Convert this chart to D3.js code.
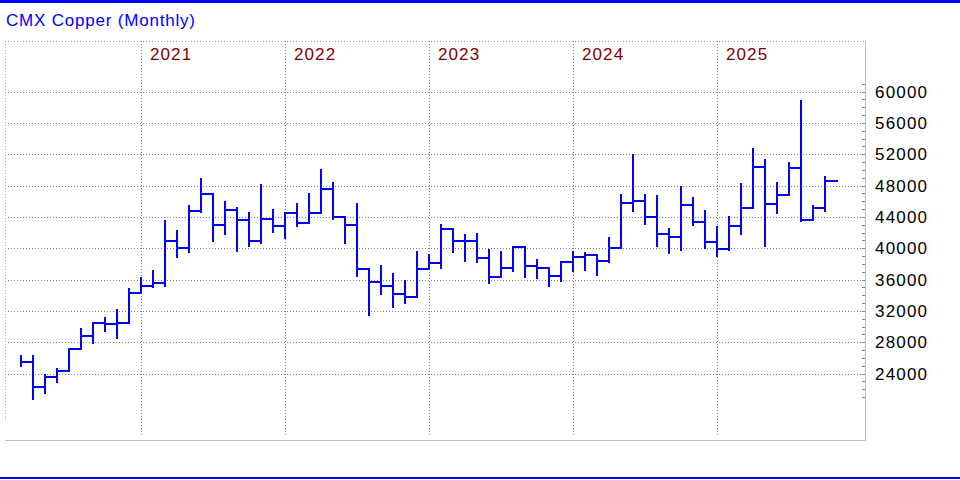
<!DOCTYPE html>
<html>
<head>
<meta charset="utf-8">
<script src="https://cdn.jsdelivr.net/npm/d3@7"></script>
<style>
	body { margin: 0; background: #fff; }
	text { font-family: Arial, "Liberation Sans", sans-serif; }
</style>
</head>
<body>
<div id="chart"></div>
<script>
// monthly bars, Feb 2020 .. Sep 2025
const months = d3.timeMonth.range(new Date(2020, 1, 1), new Date(2025, 9, 1));

const high = [26340, 26340, 24000, 24640, 27110, 29750, 30400, 31160, 32180, 34860, 36270, 37200,
	43590, 42310, 45510, 48920, 47000, 46020, 45210, 44580, 48170, 44960, 44550, 45730,
	47000, 50070, 48490, 44140, 45730, 37290, 37800, 36860, 35920, 39630, 39250, 43040,
	42400, 41760, 41890, 39850, 39630, 40100, 40180, 38610, 37620, 38260, 39630, 39460,
	39210, 41380, 46910, 52030, 46880, 46750, 42530, 47900, 46570, 44870, 42830, 44100,
	48280, 52760, 51350, 48410, 50970, 58930, 45510, 49220];
const low = [24840, 20590, 21440, 22850, 24330, 26980, 27740, 29240, 28350, 30390, 34220, 34860,
	34990, 38700, 39340, 44450, 40840, 41670, 39540, 40180, 40490, 41890, 41230, 42740,
	43370, 44520, 43590, 40490, 36350, 31360, 34010, 32380, 32900, 33790, 37270, 37290,
	39340, 38260, 38060, 35370, 36350, 36980, 36220, 36010, 35070, 35710, 36910, 37110,
	36430, 38060, 40050, 44650, 42950, 40180, 39210, 39670, 42830, 39920, 38900, 39670,
	41670, 44960, 40180, 44400, 46750, 43300, 43590, 44650];
const close = [25480, 22290, 23570, 24330, 27110, 28770, 30400, 30340, 30400, 34300, 35200, 35580,
	40950, 40050, 44780, 46880, 42990, 44870, 43590, 40950, 43720, 42850, 44550, 43250,
	44520, 47550, 44010, 42950, 37290, 35670, 35160, 34170, 33790, 37370, 38130, 42400,
	40950, 40950, 38770, 36350, 37500, 40100, 37710, 37420, 36470, 38220, 38860, 39120,
	38390, 40050, 45730, 46060, 43940, 41800, 41460, 45510, 43340, 40820, 39890, 42830,
	45160, 50400, 45680, 46790, 50280, 43590, 45160, 48610];

const yTicks = [24000, 28000, 32000, 36000, 40000, 44000, 48000, 52000, 56000, 60000];
const years = [2021, 2022, 2023, 2024, 2025];

const width = 960, height = 480;
const plotL = 5, plotR = 865, plotT = 41, plotB = 440;
const barColor = '#0000ff';

// month number counted from Jan 2020; a bar sits at the end of its month
const monthNum = d => (d.getFullYear() - 2020) * 12 + d.getMonth() + 1;
const x = d3.scaleLinear().domain([0, 72]).range([-3, 861]);
const y = d3.scaleLinear().domain([24000, 60000]).range([373.5, 91.5]);

const svg = d3.select('#chart').append('svg')
	.attr('width', width)
	.attr('height', height)
	.style('display', 'block');

svg.append('rect').attr('width', width).attr('height', height).attr('fill', '#fff');

// blue rules top and bottom
svg.append('rect').attr('x', 0).attr('y', 0).attr('width', width).attr('height', 3).attr('fill', barColor);
svg.append('rect').attr('x', 0).attr('y', 477).attr('width', width).attr('height', 2).attr('fill', barColor);

svg.append('text')
	.attr('x', 6).attr('y', 26)
	.style('font-size', '17px')
	.style('letter-spacing', '0.8px')
	.attr('fill', barColor)
	.text('CMX Copper (Monthly)');

const grid = svg.append('g').attr('shape-rendering', 'crispEdges');

// frame
grid.append('line')
	.attr('x1', plotL).attr('x2', plotR).attr('y1', plotT + 0.5).attr('y2', plotT + 0.5)
	.attr('stroke', '#999').attr('stroke-dasharray', '1,2');
grid.append('line')
	.attr('x1', plotL + 0.5).attr('x2', plotL + 0.5).attr('y1', plotT).attr('y2', 420)
	.attr('stroke', '#aaa').attr('stroke-dasharray', '1,2');
grid.append('line')
	.attr('x1', plotL).attr('x2', plotR + 1).attr('y1', plotB + 0.5).attr('y2', plotB + 0.5)
	.attr('stroke', '#c0c0c0');
grid.append('line')
	.attr('x1', plotR + 0.5).attr('x2', plotR + 0.5).attr('y1', plotT).attr('y2', plotB)
	.attr('stroke', '#c0c0c0');

grid.selectAll('.hgrid')
	.data(yTicks)
	.enter().append('line')
	.attr('class', 'hgrid')
	.attr('x1', plotL + 3).attr('x2', plotR - 3)
	.attr('y1', d => Math.round(y(d)) + 0.5)
	.attr('y2', d => Math.round(y(d)) + 0.5)
	.attr('stroke', '#808080')
	.attr('stroke-dasharray', '1,2');

// minor ticks on the price axis
grid.selectAll('.minor')
	.data(d3.range(21000, 61001, 1000))
	.enter().append('line')
	.attr('class', 'minor')
	.attr('x1', plotR - 3).attr('x2', plotR)
	.attr('y1', d => Math.round(y(d)) + 0.5)
	.attr('y2', d => Math.round(y(d)) + 0.5)
	.attr('stroke', '#808080');

grid.selectAll('.vgrid')
	.data(years)
	.enter().append('line')
	.attr('class', 'vgrid')
	.attr('x1', d => x((d - 2020) * 12) + 0.5)
	.attr('x2', d => x((d - 2020) * 12) + 0.5)
	.attr('y1', plotT).attr('y2', 437)
	.attr('stroke', '#808080')
	.attr('stroke-dasharray', '1,2');

svg.selectAll('.year')
	.data(years)
	.enter().append('text')
	.attr('class', 'year')
	.attr('x', d => x((d - 2020) * 12) + 9)
	.attr('y', 60)
	.style('font-size', '17px')
	.style('letter-spacing', '1.1px')
	.attr('fill', '#800000')
	.text(d => d);

svg.selectAll('.ylab')
	.data(yTicks)
	.enter().append('text')
	.attr('class', 'ylab')
	.attr('x', 875)
	.attr('y', d => y(d))
	.attr('dy', '0.36em')
	.style('font-size', '17px')
	.style('letter-spacing', '1.2px')
	.attr('fill', '#000')
	.text(d => d);

// OHLC-style bars: high-low stem and a close tick running across the month
const bars = svg.append('g')
	.attr('shape-rendering', 'crispEdges')
	.attr('stroke', barColor)
	.attr('stroke-width', 2);

const rows = months.map((m, i) => ({ t: monthNum(m), h: high[i], l: low[i], c: close[i] }));

bars.selectAll('.stem')
	.data(rows)
	.enter().append('line')
	.attr('class', 'stem')
	.attr('x1', d => x(d.t)).attr('x2', d => x(d.t))
	.attr('y1', d => y(d.h)).attr('y2', d => y(d.l));

bars.selectAll('.tick')
	.data(rows)
	.enter().append('line')
	.attr('class', 'tick')
	.attr('x1', d => x(d.t) - 1).attr('x2', d => x(d.t + 1) + 1)
	.attr('y1', d => y(d.c)).attr('y2', d => y(d.c));
</script>
</body>
</html>
